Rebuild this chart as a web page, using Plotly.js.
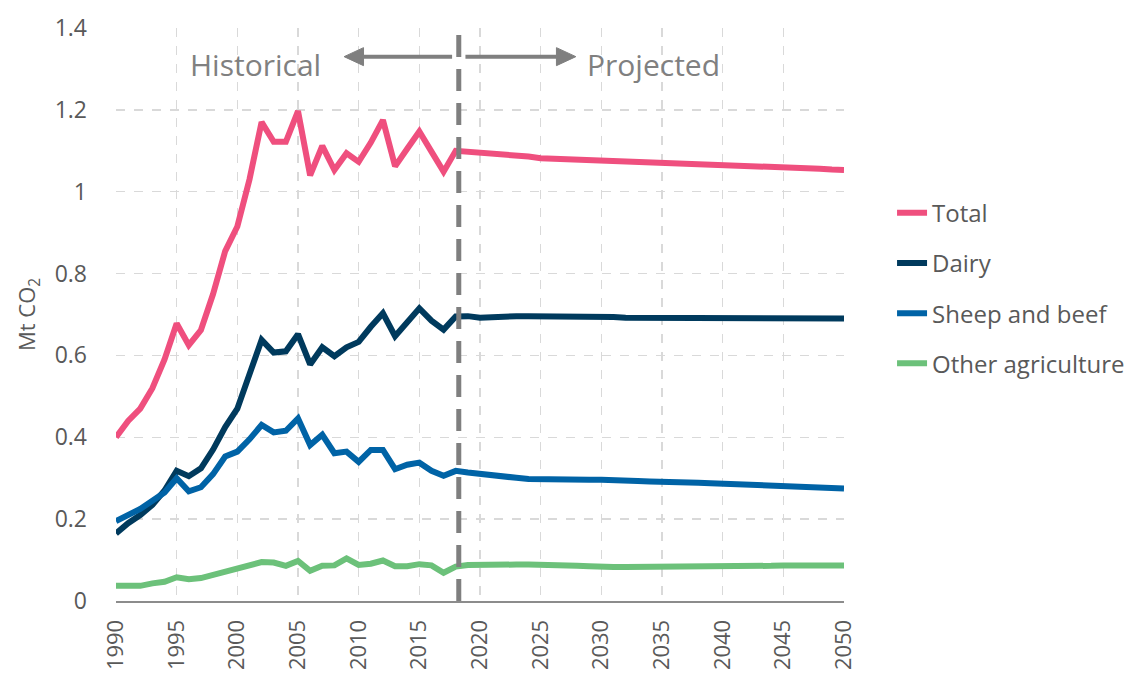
<!DOCTYPE html>
<html>
<head>
<meta charset="utf-8">
<script src="https://cdn.plot.ly/plotly-3.0.1.min.js"></script>
<style>html,body{margin:0;padding:0;background:#fff;}#chart{width:1142px;height:680px;}</style>
</head>
<body>
<div id="chart"></div>
<script>
var years = [];
for (var yr = 1990; yr <= 2050; yr++) years.push(yr);

var total = [0.40,0.44,0.47,0.52,0.59,0.678,0.625,0.662,0.75,0.855,0.915,1.03,1.17,1.122,1.122,1.197,1.04,1.112,1.053,1.094,1.073,1.12,1.175,1.062,1.105,1.147,1.098,1.049,1.10,
1.098,1.095,1.092,1.089,1.088,1.086,1.082,1.081,1.080,1.079,1.078,1.077,1.076,1.074,1.073,1.072,1.071,1.070,1.069,1.067,1.066,1.065,1.064,1.063,1.062,1.061,1.060,1.059,1.057,1.056,1.054,1.053];

var dairy = [0.165,0.19,0.21,0.235,0.27,0.318,0.305,0.324,0.37,0.425,0.47,0.55,0.638,0.607,0.61,0.652,0.578,0.62,0.598,0.62,0.633,0.67,0.703,0.647,0.68,0.715,0.685,0.663,0.695,
0.696,0.692,0.694,0.696,0.696,0.696,0.696,0.696,0.696,0.696,0.696,0.696,0.694,0.692,0.692,0.692,0.692,0.692,0.692,0.692,0.692,0.692,0.691,0.689,0.690,0.689,0.690,0.690,0.690,0.690,0.690,0.690];

var sheepBeef = [0.195,0.21,0.225,0.245,0.265,0.30,0.268,0.278,0.31,0.353,0.365,0.395,0.43,0.412,0.416,0.446,0.381,0.406,0.361,0.365,0.34,0.369,0.369,0.322,0.333,0.338,0.318,0.306,0.318,
0.314,0.31,0.307,0.304,0.301,0.298,0.297,0.297,0.296,0.296,0.296,0.296,0.296,0.295,0.293,0.292,0.292,0.29,0.289,0.289,0.288,0.287,0.286,0.284,0.284,0.283,0.282,0.28,0.278,0.278,0.277,0.275];

var otherAg = [0.037,0.037,0.037,0.043,0.047,0.058,0.053,0.056,0.064,0.074,0.079,0.087,0.095,0.094,0.086,0.098,0.074,0.086,0.087,0.104,0.088,0.091,0.099,0.085,0.085,0.09,0.087,0.069,0.084,
0.088,0.089,0.089,0.089,0.089,0.089,0.089,0.089,0.089,0.086,0.085,0.083,0.083,0.083,0.083,0.083,0.083,0.083,0.083,0.083,0.083,0.083,0.085,0.086,0.086,0.086,0.087,0.087,0.087,0.087,0.087,0.087];

var seriesNames = ["Total","Dairy","Sheep and beef","Other agriculture"];
var seriesColors = ["#ef4f7e","#003a5d","#0063a6","#6cc17a"];
var seriesData = [total, dairy, sheepBeef, otherAg];

var splitYear = 2018.25;
var arrowLevel = 1.33;
var tickYears = [];
for (var t = 1990; t <= 2050; t += 5) tickYears.push(t);

var traces = seriesData.map(function(d, i){
  return {x: years, y: d, type: 'scatter', mode: 'lines', name: seriesNames[i],
    legendgroup: 'g'+i,
    line: {color: seriesColors[i], width: 6}};
});

var fontFam = '"Open Sans", "Liberation Sans", sans-serif';
var gray = '#595959';
var arrowGray = '#7f7f7f';

function arrowShapes(tipX, baseX, tailX, yv){
  var h = 0.022;
  return [
    {type: 'line', xref: 'x', yref: 'y', x0: tailX, x1: baseX, y0: yv, y1: yv,
      line: {color: arrowGray, width: 4}},
    {type: 'path', xref: 'x', yref: 'y',
      path: 'M ' + tipX + ' ' + yv + ' L ' + baseX + ' ' + (yv + h) + ' L ' + baseX + ' ' + (yv - h) + ' Z',
      fillcolor: arrowGray, line: {color: arrowGray, width: 1}}
  ];
}

var shapes = [{type: 'line', xref: 'x', yref: 'y', x0: splitYear, x1: splitYear, y0: 0, y1: 1.4,
    line: {color: arrowGray, width: 5, dash: '22px,12px'}}]
  .concat(arrowShapes(2008.8, 2010.4, 2017.7, arrowLevel))
  .concat(arrowShapes(2027.9, 2026.3, 2018.8, arrowLevel));

var layout = {
  width: 1142, height: 680,
  margin: {l: 116, r: 295, t: 28, b: 79},
  paper_bgcolor: '#fff', plot_bgcolor: '#fff',
  font: {family: fontFam, color: gray, size: 20},
  showlegend: true,
  legend: {x: 1.066, xanchor: 'left', y: 0.546, yanchor: 'middle',
    font: {size: 24, color: gray, family: fontFam},
    tracegroupgap: 16, traceorder: 'grouped', bgcolor: 'rgba(0,0,0,0)'},
  xaxis: {range: [1990, 2050], tickmode: 'array', tickvals: tickYears,
    ticktext: tickYears.map(String), tickangle: -90,
    tickfont: {size: 22, color: gray}, showgrid: true, gridcolor: '#d9d9d9',
    griddash: 'dash', gridwidth: 1.5, zeroline: false, showline: true,
    linecolor: '#8c8c8c', linewidth: 2, ticks: '', ticklabelstandoff: 8, fixedrange: true},
  yaxis: {range: [0, 1.4], tickmode: 'array', tickvals: [0,0.2,0.4,0.6,0.8,1,1.2,1.4],
    ticktext: ['0','0.2','0.4','0.6','0.8','1','1.2','1.4'],
    tickfont: {size: 23, color: gray}, showgrid: true, gridcolor: '#d9d9d9',
    griddash: 'dash', gridwidth: 1.5, zeroline: false, showline: false, ticks: '',
    ticklabelstandoff: 28,
    title: {text: 'Mt CO<sub>2</sub>', font: {size: 22, color: gray}, standoff: 12},
    fixedrange: true},
  shapes: shapes,
  annotations: [
    {xref: 'x', yref: 'y', x: 2001.5, y: 1.31, text: 'Historical', showarrow: false,
      font: {size: 30, color: '#808080', family: fontFam}},
    {xref: 'x', yref: 'y', x: 2034.3, y: 1.31, text: 'Projected', showarrow: false,
      font: {size: 30, color: '#808080', family: fontFam}}
  ]
};

Plotly.newPlot('chart', traces, layout, {displayModeBar: false, staticPlot: true});
</script>
</body>
</html>
